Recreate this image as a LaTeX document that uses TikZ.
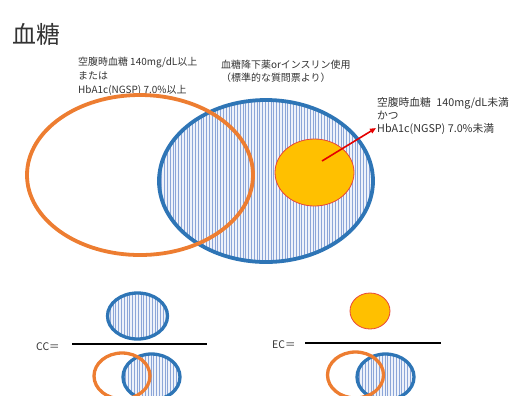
\documentclass[tikz,border=0pt]{standalone}
\usepackage{fontspec}
\setmainfont{Noto Sans CJK JP}
\usetikzlibrary{arrows.meta,shapes.geometric}
\definecolor{org}{HTML}{ED7D31}
\definecolor{blu}{HTML}{2E75B6}
\definecolor{yel}{HTML}{FFC000}
\definecolor{yelborder}{HTML}{E8463A}
\definecolor{hatchbg}{HTML}{EEF2FA}
\definecolor{hatchln}{HTML}{8CA6D8}
\definecolor{txt}{HTML}{333333}
\newcommand\myhatch[5]{% cx cy rx ry nlines
  \begin{scope}
    \clip (#1,#2) ellipse [x radius=#3, y radius=#4];
    \fill[hatchbg] (#1,#2) ellipse [x radius=#3, y radius=#4];
    \foreach \k in {0,...,#5}{
      \draw[hatchln, line width=0.9bp] (#1-#3+\k*2.8,#2-#4) -- (#1-#3+\k*2.8,#2+#4);
    }
  \end{scope}}
\begin{document}
\begin{tikzpicture}[x=1bp,y=-1bp,
  lbl/.style={inner sep=0, anchor=north west, align=left, text=txt},
  orgring/.style={draw=org, line width=3.8bp},
  bluring/.style={draw=blu, line width=3.8bp},
  orgsmall/.style={draw=org, line width=3.3bp},
  blusmall/.style={draw=blu, line width=3.3bp},
  yelfill/.style={fill=yel, draw=yelborder, line width=0.8bp},
  fracline/.style={draw=black, line width=1.4bp},
  redarrow/.style={draw=red!90!black, line width=1.6bp, -{Triangle[length=6bp,width=5bp]}}]
\useasboundingbox (0,0) rectangle (522,395);
\clip (0,0) rectangle (522,395);

% title
\node[inner sep=0, anchor=west, text=txt, font=\fontsize{24}{26}\selectfont] (title) at (12,34) {血糖};

% labels
\node[lbl, font=\fontsize{10}{14}\selectfont] (lblA) at (78,57)
  {空腹時血糖 140mg/dL以上\\または\\HbA1c(NGSP) 7.0\%以上};
\node[lbl, font=\fontsize{10}{12.5}\selectfont] (lblB) at (221,60)
  {血糖降下薬orインスリン使用\\（標準的な質問票より）};
\node[lbl, font=\fontsize{10.8}{13}\selectfont] (lblC) at (377,97)
  {空腹時血糖\hspace{3bp} 140mg/dL未満\\かつ\\HbA1c(NGSP) 7.0\%未満};

% main diagram
\myhatch{266}{181}{107}{81}{80}
\draw[bluring] (266,181) ellipse [x radius=107, y radius=81];
\draw[orgring] (140,175) ellipse [x radius=113, y radius=80];
\node[yelfill, shape=ellipse, minimum width=79bp, minimum height=67bp, inner sep=0] (yellow) at (314.5,172.5) {};
\coordinate (astart) at (322,161);
\coordinate (atip) at (376,128);
\draw[redarrow] (astart) -- (atip);

% CC fraction
\node[inner sep=0, anchor=west, text=txt, font=\fontsize{10.5}{12}\selectfont] (cc) at (36,347) {CC＝};
\coordinate (ccL) at (72,344);
\coordinate (ccR) at (207,344);
\draw[fracline] (ccL) -- (ccR);
\myhatch{137.5}{316}{30}{23}{24}
\draw[blusmall] (137.5,316) ellipse [x radius=30, y radius=23];
\myhatch{151.5}{377}{28.5}{23}{22}
\draw[blusmall] (151.5,377) ellipse [x radius=28.5, y radius=23];
\draw[orgsmall] (122,376) ellipse [x radius=28, y radius=23];

% EC fraction
\node[inner sep=0, anchor=west, text=txt, font=\fontsize{10.5}{12}\selectfont] (ec) at (272,345) {EC＝};
\coordinate (ecL) at (305,343);
\coordinate (ecR) at (441,343);
\draw[fracline] (ecL) -- (ecR);
\node[yelfill, shape=ellipse, minimum width=40bp, minimum height=36bp, inner sep=0] (yellowsmall) at (370,311) {};
\myhatch{385.5}{377}{28.5}{23}{22}
\draw[blusmall] (385.5,377) ellipse [x radius=28.5, y radius=23];
\draw[orgsmall] (355.5,375) ellipse [x radius=28, y radius=23];
\end{tikzpicture}
\end{document}
